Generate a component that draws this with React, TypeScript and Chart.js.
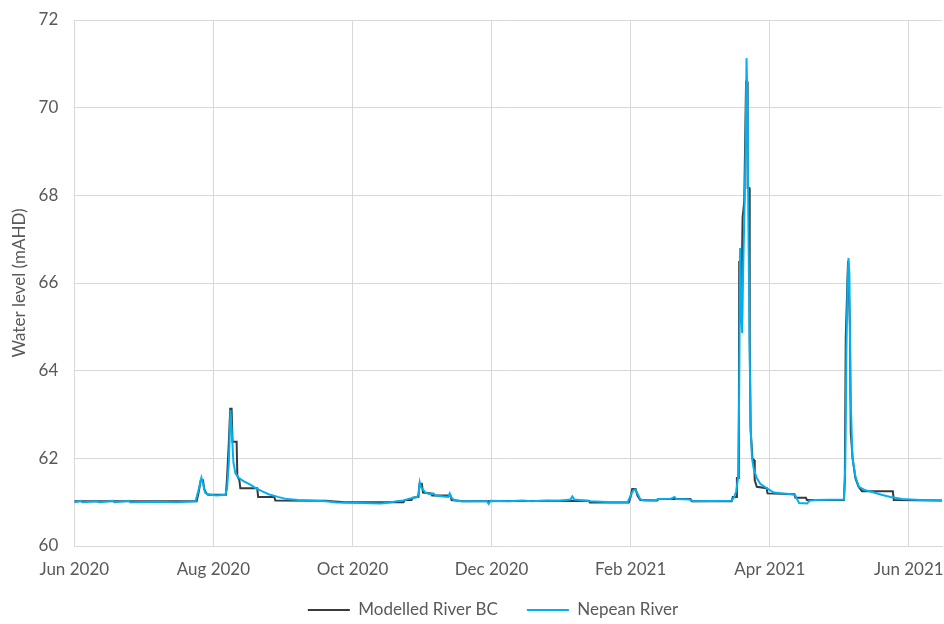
import React, { useEffect, useRef } from 'react';
import { Chart, registerables } from 'chart.js';

Chart.register(...registerables);

// x values are days since 1 Jun 2020
const tickDays = [0, 60.83, 121.67, 182.5, 243.33, 304.17, 365];
const tickLabels = ['Jun 2020', 'Aug 2020', 'Oct 2020', 'Dec 2020', 'Feb 2021', 'Apr 2021', 'Jun 2021'];

const modelledDays = [
  0, 30, 53.5, 54.3, 55.3, 56.3, 56.8, 57.8, 58.5, 66.3, 66.8, 67.6, 68.2, 68.8, 69.2, 71.0, 71.3, 72.2, 72.6,
  80.0, 80.4, 87.5, 87.9, 110, 118, 144, 144.5, 147.5, 148, 150.5, 151, 152, 152.5, 156, 156.5, 164.5, 165, 170,
  225, 225.5, 242.5, 243.3, 244, 245.5, 246.3, 247.5, 255, 255.5, 269.5, 270, 287.5, 288, 289.5, 289.8, 290.6,
  290.8, 291.4, 291.6, 292.3, 293, 293.8, 294.3, 294.5, 295.2, 295.4, 295.8, 296.6, 297.3, 297.6, 298.5, 302.8,
  303.2, 315, 315.4, 320, 320.4, 336.6, 337.0, 337.4, 338.4, 339.2, 339.6, 340.4, 341.6, 343, 344.5, 358, 358.4, 379.5,
];
const modelledLevels = [
  61.02, 61.02, 61.02, 61.2, 61.5, 61.5, 61.3, 61.2, 61.17, 61.17, 61.55, 62.38, 63.13, 63.13, 62.38, 62.38, 61.6, 61.5, 61.32,
  61.32, 61.12, 61.12, 61.04, 61.03, 61.0, 61.0, 61.05, 61.05, 61.1, 61.12, 61.42, 61.42, 61.22, 61.2, 61.15, 61.15, 61.05, 61.02,
  61.03, 60.99, 60.99, 61.12, 61.3, 61.3, 61.15, 61.05, 61.04, 61.07, 61.07, 61.02, 61.02, 61.12, 61.12, 61.55, 61.55,
  66.48, 66.48, 65.1, 67.5, 67.85, 70.59, 70.59, 68.17, 68.17, 64.7, 62.65, 62.0, 61.96, 61.5, 61.35, 61.32,
  61.2, 61.18, 61.1, 61.1, 61.05, 61.05, 61.5, 64.75, 66.5, 65.04, 62.58, 62.0, 61.55, 61.35, 61.25, 61.25, 61.05, 61.04,
];

const nepeanDays = [
  0, 3, 3.5, 10, 11, 17, 17.5, 24, 24.5, 35, 45, 53, 54.2, 55.6, 56.4, 57.2, 58.5, 62, 66, 66.8, 67.6, 68.3, 68.9,
  69.6, 70.5, 72, 74, 77, 79, 82, 85, 89, 93, 98, 110, 115, 125, 134, 138, 141, 144, 146.5, 148.5, 150, 150.6, 151.1,
  151.6, 152.3, 153.5, 155.5, 157, 158, 161.5, 163.5, 164.2, 164.7, 166, 169, 180.5, 181.2, 182, 190, 196, 200, 207,
  212, 217, 217.8, 218.7, 226, 235, 242, 243.3, 244.5, 245.3, 246.5, 247.5, 249, 254, 255.5, 261, 262.5, 263.3, 269,
  271, 287.3, 288.5, 289.5, 290.3, 290.8, 291.2, 291.8, 292.1, 292.5, 293.2, 293.6, 294.0, 294.4, 294.8, 295.3, 295.8,
  296.4, 297.2, 298.5, 300, 302, 304, 306, 310, 314, 315.3, 316, 317, 320.5, 321.5, 324, 336.6, 337.2, 337.7, 338.3,
  338.6, 339.0, 339.5, 340.3, 341.7, 343.2, 346, 349, 353, 357, 362, 370, 379.5,
];
const nepeanLevels = [
  61.0, 61.03, 61.0, 61.02, 61.0, 61.03, 61.0, 61.03, 61.0, 61.01, 61.0, 61.02, 61.25, 61.56, 61.4, 61.22, 61.18, 61.15, 61.17, 61.3, 61.9, 63.1, 62.6,
  61.9, 61.65, 61.55, 61.48, 61.4, 61.33, 61.25, 61.18, 61.12, 61.07, 61.05, 61.02, 60.99, 60.98, 60.97, 60.99, 61.02, 61.04, 61.08, 61.1, 61.12, 61.2, 61.45,
  61.35, 61.3, 61.22, 61.18, 61.2, 61.15, 61.13, 61.12, 61.2, 61.12, 61.05, 61.02, 61.02, 60.96, 61.03, 61.02, 61.04, 61.02, 61.04,
  61.03, 61.06, 61.13, 61.06, 61.02, 61.0, 61.0, 61.15, 61.27, 61.29, 61.18, 61.07, 61.04, 61.04, 61.07, 61.08, 61.12, 61.07, 61.06,
  61.02, 61.03, 61.1, 61.25, 61.55, 63.5, 66.8, 65.2, 64.86, 66.2, 67.9, 69.0, 71.13, 70.2, 67.5, 64.8, 62.7,
  62.0, 61.75, 61.55, 61.42, 61.35, 61.28, 61.22, 61.2, 61.18, 61.16, 61.08, 60.98, 60.97, 61.03, 61.05, 61.06, 61.8, 64.5, 66.2,
  66.57, 66.2, 63.5, 62.03, 61.57, 61.35, 61.27, 61.23, 61.17, 61.12, 61.07, 61.05, 61.04,
];

const TEXT = '#595959';
const GRID = '#d9d9d9';
const FONT = 'Lato';

export default function App() {
  const ref = useRef<HTMLCanvasElement>(null);

  useEffect(() => {
    if (!ref.current) return;
    const legendShift = {
      id: 'legendShift',
      afterLayout(chart: any) {
        const l = chart.legend;
        if (l) {
          l.left += 22;
          l.right += 22;
          l.top -= 17.5;
        }
      },
    };
    const chart = new Chart(ref.current, {
      type: 'line',
      data: {
        datasets: [
          {
            label: 'Modelled River BC',
            data: modelledDays.map((d, i) => ({ x: d, y: modelledLevels[i] })),
            borderColor: '#3a3a3a',
            backgroundColor: '#3a3a3a',
            borderWidth: 2,
            pointRadius: 0,
            tension: 0,
            order: 1,
          },
          {
            label: 'Nepean River',
            data: nepeanDays.map((d, i) => ({ x: d, y: nepeanLevels[i] })),
            borderColor: '#00b0f0',
            backgroundColor: '#00b0f0',
            borderWidth: 2,
            pointRadius: 0,
            tension: 0,
            order: 0,
          },
        ],
      },
      options: {
        animation: false,
        responsive: false,
        layout: { padding: { left: 0, right: 2, top: 20, bottom: 0 } },
        plugins: {
          tooltip: { enabled: false },
          legend: {
            position: 'bottom',
            maxHeight: 34,
            labels: {
              usePointStyle: true,
              pointStyle: 'line',
              pointStyleWidth: 42,
              padding: 29,
              color: TEXT,
              font: { family: FONT, size: 17 },
              sort: (a: any, b: any) => a.datasetIndex - b.datasetIndex,
            },
          },
        },
        scales: {
          x: {
            type: 'linear',
            min: 0,
            max: 379.5,
            afterBuildTicks: (s: any) => {
              s.ticks = tickDays.map((v) => ({ value: v }));
            },
            afterFit: (s: any) => {
              s.height = 44;
              s.paddingLeft = 0;
              s.paddingRight = 0;
            },
            ticks: {
              autoSkip: false,
              maxRotation: 0,
              padding: 13,
              color: TEXT,
              font: { family: FONT, size: 17 },
              callback: (_v: any, i: number) => tickLabels[i],
            },
            grid: { color: GRID, drawTicks: false },
            border: { color: GRID },
          },
          y: {
            min: 60,
            max: 72,
            afterFit: (s: any) => {
              s.width = 74.3;
              s.paddingTop = 0;
              s.paddingBottom = 0;
            },
            ticks: {
              stepSize: 2,
              padding: 16,
              color: TEXT,
              font: { family: FONT, size: 17 },
            },
            grid: { color: GRID, drawTicks: false },
            border: { color: GRID },
            title: {
              display: true,
              text: 'Water level (mAHD)',
              color: TEXT,
              font: { family: FONT, size: 17 },
              padding: { top: 9, bottom: 0 },
            },
          },
        },
      },
      plugins: [legendShift],
    } as any);
    return () => chart.destroy();
  }, []);

  return (
    <div style={{ position: 'fixed', left: 0, top: 0, width: 944, height: 624 }}>
      <canvas ref={ref} width={944} height={624} />
    </div>
  );
}
